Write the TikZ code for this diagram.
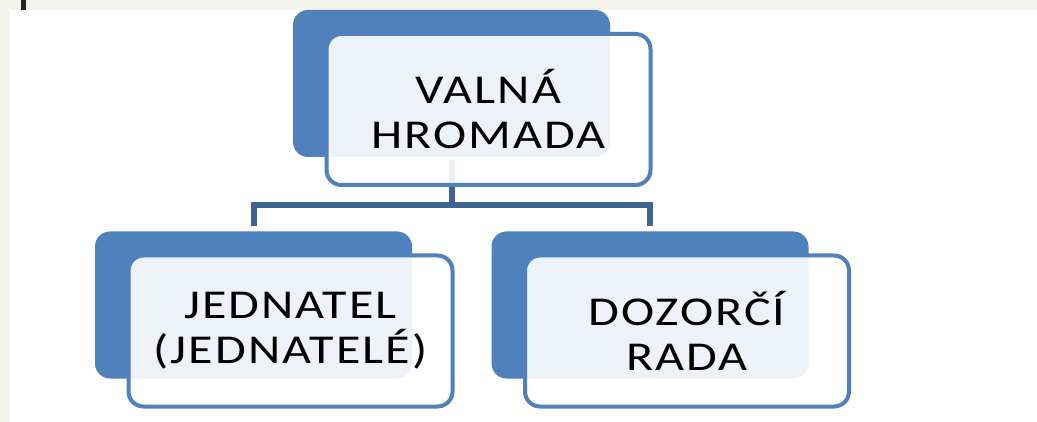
\documentclass[tikz,border=0pt]{standalone}
\usepackage{fontspec}
\setmainfont{Carlito}[FakeStretch=1.22,LetterSpace=5]
\definecolor{backblue}{RGB}{79,129,189}
\definecolor{linkblue}{RGB}{62,100,150}
\definecolor{pagegreen}{RGB}{243,245,236}
\begin{document}
\begin{tikzpicture}[x=1pt,y=-1pt,
    back/.style={fill=backblue,rounded corners=15pt,minimum width=317pt,minimum height=147pt,inner sep=0pt},
    front/.style={draw=backblue,line width=4pt,fill=white,fill opacity=0.9,text opacity=1,
      rounded corners=15pt,minimum width=324pt,minimum height=151pt,inner sep=0pt,
      align=center,font=\fontsize{41}{45}\selectfont,xshift=37pt,yshift=-26pt},
    link/.style={draw=linkblue,line width=6pt}]
    \useasboundingbox (0,0) rectangle (1037,422);
    \fill[pagegreen] (0,0) rectangle (1037,422);
    \fill[white] (10,10) rectangle (1037,422);
    \fill[black!85] (21,0) rectangle (26,10);
    
    \node[back] (vh) at (451.5,83.5) {};
    \node[back] (jd) at (253.5,305) {};
    \node[back] (dr) at (650,305) {};
    
    \coordinate (bus) at (451.5,205);
    \draw[link,shorten <=3pt] (vh.south) -- (bus);
    \draw[link,shorten <=5pt,shorten >=5pt] (jd.north) |- (bus) -| (dr.north);
    
    \node[front] (vhf) at (vh) {VALNÁ\\HROMADA};
    \node[front] (jdf) at (jd) {JEDNATEL\\(JEDNATELÉ)};
    \node[front] (drf) at (dr) {DOZORČÍ\\RADA};
  \end{tikzpicture}
\end{document}
